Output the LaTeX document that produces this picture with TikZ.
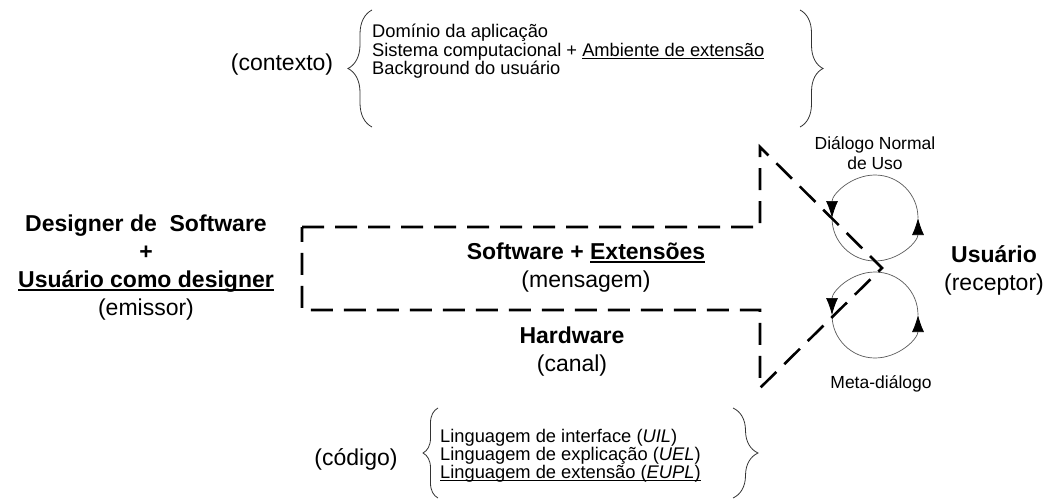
\documentclass[tikz,border=0pt]{standalone}
\usepackage{fontspec}
\setmainfont{Liberation Sans}
\usepackage{tikz}
\usetikzlibrary{arrows, arrows.meta, decorations.pathreplacing}
\tikzset{>=latex}
\tikzset{bigtext/.style={font=\fontsize{23}{28}\selectfont, align=center, inner sep=0}}
\tikzset{smalltext/.style={font=\fontsize{18.3}{19}\selectfont, inner sep=0}}
\tikzset{curly/.style={decorate, decoration={brace, amplitude=#1}, line width=0.8pt, black!80}}
\tikzset{pipe/.style={line width=2.6pt, dash pattern=on 22pt off 11pt}}
\tikzset{cyc/.style={-{Latex[length=17pt,width=12pt,black]}, line width=0.7pt, black!65}}
% underline close to the baseline
\newcommand{\undl}[2][1pt]{\sbox0{#2}\rlap{\rule[-3pt]{\wd0}{#1}}\usebox0}

\begin{document}
\begin{tikzpicture}[x=1pt, y=-1pt]
\useasboundingbox (0,0) rectangle (1049,500);

% emissor
\node[bigtext] (emissor) at (146,268) {\textbf{Designer de\ \ Software}\\ \textbf{+}\\ \undl[1.6pt]{\textbf{Usuário como designer}}\\ (emissor)};

% contexto
\node[bigtext] (contexto) at (282,65) {(contexto)};
\draw[curly=24pt] (372,127) -- (372,10);
\node[smalltext, anchor=base west] (ctxa) at (372,38) {Domínio da aplicação};
\node[smalltext, anchor=base west] (ctxb) at (372,56.5) {Sistema computacional + \undl{Ambiente de extensão}};
\node[smalltext, anchor=base west] (ctxc) at (372,75) {Background do usuário};
\draw[curly=23pt] (800,10) -- (800,127);

% circulos de dialogo
\draw[cyc] (918,218) arc[start angle=0, end angle=-180, radius=43];
\draw[cyc] (832,218) arc[start angle=180, end angle=0, radius=43];
\draw[cyc] (918,315) arc[start angle=0, end angle=-180, radius=43];
\draw[cyc] (832,315) arc[start angle=180, end angle=0, radius=43];
\node[smalltext, font=\fontsize{17.5}{20}\selectfont, align=center] (normal) at (875,153) {Diálogo Normal\\ de Uso};
\node[smalltext, font=\fontsize{17.5}{20}\selectfont, anchor=base] (meta) at (881,388) {Meta-diálogo};

% canal (seta tracejada)
\draw[pipe] (302,227) -- (760,227) -- (760,147) -- (882,268) -- (760,388) -- (760,310) -- (302,310) -- cycle;
\node[bigtext] (mensagem) at (586,268) {\textbf{Software + \undl[1.6pt]{Extensões}}\\ (mensagem)};
\node[bigtext] (canal) at (572,352) {\textbf{Hardware}\\ (canal)};

% receptor
\node[bigtext] (receptor) at (994,270) {\textbf{Usuário}\\ (receptor)};

% codigo
\node[bigtext] (codigo) at (356,459) {(código)};
\draw[curly=15pt] (438,498) -- (438,408);
\node[smalltext, anchor=base west] (coda) at (440,442) {Linguagem de interface (\textit{UIL})};
\node[smalltext, anchor=base west] (codb) at (440,460) {Linguagem de explicação (\textit{UEL})};
\node[smalltext, anchor=base west] (codc) at (440,478) {\undl{Linguagem de extensão (\textit{EUPL})}};
\draw[curly=25pt] (733,408) -- (733,498);
\end{tikzpicture}
\end{document}
